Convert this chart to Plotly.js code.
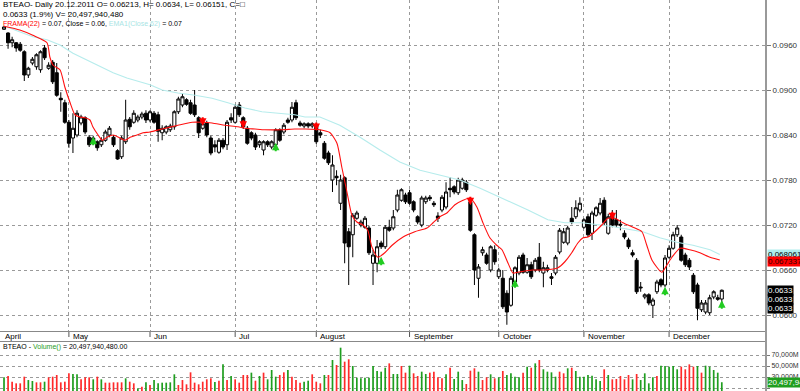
<!DOCTYPE html>
<html><head><meta charset="utf-8">
<script src="https://cdn.plot.ly/plotly-3.0.1.min.js"></script>
<style>html,body{margin:0;padding:0;background:#fff;}#chart{width:800px;height:391px;}</style>
</head><body><div id="chart"></div>
<script>
// ---- price data (daily candles, April .. 20.12.2011) ----
const openP=[
.0981,.0976,.0963,.0963,.0961,.0951,.0920,.0936,.0931,.0927,
.0956,.0929,.0937,.0923,.0889,.0883,.0857,.0836,.0840,.0856,
.0863,.0837,.0829,.0831,.0827,.0833,.0840,.0837,.0819,.0811,
.0831,.0861,.0857,.0860,.0864,.0869,.0860,.0869,.0867,.0843,
.0844,.0847,.0851,.0871,.0880,.0887,.0883,.0880,.0863,.0849,
.0856,.0836,.0827,.0817,.0833,.0827,.0863,.0857,.0880,.0863,
.0849,.0843,.0840,.0827,.0820,.0831,.0824,.0827,.0847,.0844,
.0860,.0860,.0883,.0856,.0852,.0855,.0852,.0853,.0843,.0829,
.0816,.0780,.0785,.0749,.0783,.0711,.0707,.0729,.0720,.0717,
.0716,.0669,.0669,.0696,.0691,.0717,.0716,.0740,.0753,.0760,
.0763,.0751,.0731,.0720,.0751,.0757,.0749,.0732,.0740,.0744,
.0769,.0771,.0763,.0769,.0777,.0751,.0707,.0649,.0683,.0680,
.0660,.0687,.0651,.0649,.0629,.0613,.0644,.0656,.0680,.0657,
.0667,.0660,.0677,.0656,.0660,.0651,.0656,.0684,.0697,.0696,
.0729,.0731,.0740,.0717,.0731,.0709,.0733,.0736,.0753,.0709,
.0733,.0727,.0721,.0709,.0700,.0683,.0673,.0636,.0624,.0627,
.0613,.0631,.0647,.0640,.0677,.0689,.0707,.0704,.0680,.0673,
.0653,.0640,.0607,.0604,.0603,.0624,.0623,.06213];
const highP=[
.0985,.0977,.0971,.0964,.0964,.0953,.0931,.0944,.0949,.0953,
.0960,.0937,.0940,.0936,.0897,.0887,.0860,.0869,.0873,.0867,
.0865,.0840,.0839,.0833,.0837,.0847,.0852,.0840,.0821,.0839,
.0887,.0864,.0873,.0867,.0871,.0873,.0873,.0872,.0871,.0853,
.0853,.0855,.0873,.0891,.0895,.0889,.0887,.0900,.0865,.0857,
.0859,.0839,.0833,.0836,.0836,.0860,.0869,.0881,.0884,.0865,
.0852,.0845,.0843,.0833,.0833,.0833,.0833,.0849,.0849,.0856,
.0863,.0884,.0887,.0859,.0857,.0857,.0857,.0856,.0847,.0832,
.0819,.0813,.0793,.0787,.0785,.0716,.0736,.0739,.0727,.0732,
.0719,.0687,.0700,.0699,.0720,.0727,.0740,.0767,.0769,.0763,
.0767,.0753,.0733,.0759,.0759,.0760,.0752,.0737,.0760,.0777,
.0784,.0773,.0783,.0783,.0780,.0753,.0709,.0668,.0691,.0683,
.0693,.0693,.0663,.0660,.0633,.0652,.0665,.0680,.0683,.0676,
.0671,.0676,.0696,.0671,.0667,.0656,.0680,.0716,.0716,.0719,
.0744,.0753,.0757,.0729,.0735,.0739,.0745,.0756,.0757,.0735,
.0740,.0740,.0727,.0713,.0703,.0687,.0676,.0644,.0629,.0629,
.0623,.0647,.0649,.0680,.0693,.0711,.0720,.0707,.0683,.0676,
.0656,.0643,.0620,.0620,.0627,.0633,.0627,.0634];
const lowP=[
.0980,.0955,.0957,.0951,.0951,.0912,.0916,.0933,.0927,.0923,
.0940,.0927,.0908,.0891,.0871,.0855,.0823,.0816,.0837,.0853,
.0841,.0824,.0827,.0819,.0824,.0831,.0837,.0824,.0807,.0808,
.0828,.0847,.0855,.0857,.0861,.0856,.0857,.0855,.0831,.0833,
.0841,.0844,.0847,.0868,.0877,.0879,.0867,.0864,.0836,.0847,
.0837,.0813,.0817,.0815,.0821,.0820,.0856,.0855,.0864,.0848,
.0827,.0833,.0820,.0823,.0813,.0824,.0821,.0823,.0831,.0841,
.0855,.0857,.0860,.0851,.0849,.0849,.0849,.0828,.0836,.0807,
.0800,.0764,.0773,.0740,.0669,.0640,.0677,.0727,.0717,.0715,
.0680,.0640,.0657,.0688,.0688,.0711,.0713,.0737,.0751,.0748,
.0747,.0737,.0721,.0717,.0748,.0752,.0744,.0724,.0737,.0741,
.0757,.0761,.0760,.0767,.0764,.0711,.0640,.0623,.0679,.0667,
.0657,.0667,.0648,.0608,.0587,.0611,.0641,.0653,.0655,.0655,
.0648,.0657,.0657,.0637,.0657,.0640,.0653,.0681,.0695,.0693,
.0721,.0728,.0737,.0715,.0704,.0700,.0731,.0733,.0720,.0707,
.0717,.0717,.0713,.0701,.0688,.0677,.0628,.0631,.0621,.0613,
.0596,.0628,.0637,.0637,.0675,.0687,.0704,.0671,.0664,.0660,
.0628,.0593,.0604,.0601,.0600,.0621,.0619,.06151];
const closeP=[
.0984,.0963,.0967,.0956,.0953,.0920,.0929,.0941,.0947,.0951,
.0943,.0933,.0911,.0893,.0887,.0857,.0829,.0849,.0869,.0864,
.0844,.0827,.0836,.0823,.0833,.0844,.0849,.0827,.0808,.0836,
.0860,.0851,.0869,.0864,.0868,.0860,.0871,.0857,.0845,.0849,
.0851,.0852,.0871,.0888,.0891,.0881,.0869,.0867,.0843,.0855,
.0840,.0816,.0824,.0833,.0824,.0857,.0860,.0877,.0867,.0851,
.0829,.0836,.0824,.0831,.0831,.0827,.0831,.0847,.0833,.0853,
.0857,.0877,.0863,.0853,.0855,.0852,.0855,.0831,.0840,.0809,
.0803,.0800,.0783,.0780,.0696,.0691,.0733,.0736,.0724,.0729,
.0683,.0680,.0691,.0691,.0717,.0713,.0731,.0760,.0767,.0751,
.0749,.0740,.0724,.0756,.0756,.0755,.0747,.0729,.0757,.0764,
.0767,.0764,.0780,.0780,.0767,.0713,.0660,.0664,.0687,.0669,
.0691,.0671,.0660,.0611,.0604,.0649,.0663,.0677,.0657,.0667,
.0651,.0673,.0660,.0663,.0663,.0649,.0677,.0713,.0711,.0716,
.0724,.0743,.0749,.0727,.0707,.0736,.0743,.0749,.0723,.0731,
.0720,.0720,.0720,.0704,.0691,.0680,.0631,.0637,.0627,.0616,
.0620,.0644,.0640,.0676,.0689,.0707,.0716,.0673,.0667,.0664,
.0631,.0609,.0616,.0616,.0623,.0631,.0621,.0633];

// ---- volume (millions) and bar colours as read (g = green, r = red) ----
const volume=[
29400,31800,21500,18500,18500,30600,24500,22700,20300,20300,
21500,29400,30600,33600,20300,21500,36700,35500,34900,25800,
29400,29400,25800,30600,25800,19700,19700,20300,20300,20300,
27600,21500,18500,9400,12400,20300,15500,24500,18500,19700,
19700,20300,34900,15500,24500,16700,38500,19700,16700,21500,
25800,27600,20900,23300,53000,24500,31800,25800,19700,33600,
33600,37900,23300,31800,37900,25800,42700,30600,33600,38500,
42700,30600,24500,19700,21500,23300,34900,21500,18500,33600,
33600,60900,51800,83300,57900,62200,50000,28800,27600,28800,
28800,50000,40900,39700,46900,54800,35500,35500,
50000,37900,50600,36700,31800,39700,35500,37900,39700,29400,
27600,34900,46900,26400,39700,24500,17300,41500,45800,39700,
24500,29400,34900,27600,29400,40900,33600,36700,30600,29400,
37900,48800,46900,54800,60900,44000,39700,38500,30600,39700,
36700,45800,46900,40900,30600,30600,33600,32400,25800,22700,
44000,33600,25800,26400,31800,25800,33600,25800,35500,24500,
36700,18500,29400,31800,50600,50000,48800,50000,44000,48800,
44000,53000,48800,50000,37900,50600,48800,42700,37900,20498];
const volDir=(
'grrrrrggrrgrrrrrrggrrrgrgrrrrrgrrgrgrggggggrrrrrrrrrgrgrgrrrrgrgrgggrrgrrrggrrrgrgrgrrgggggggggrgg'+
'rrgrrggrrrrgrgggrrrgrrgrgrggggrgrgrggggrrgrgggggggrgrrrrrgrggggrgggggrrrrgrggggg').split('');

// ---- indicator lines (x = trading-day index) ----
const framaX=[0,3.9,7.1,10.6,11.3,12.1,13.8,15.0,16.3,17.5,18.7,20.0,21.2,21.9,23.2,24.2,25.4,26.9,28.6,29.8,31.1,32.8,34.3,36.0,39.0,42.9,46.4,48.8,51.3,54.5,57.7,59.4,61.9,64.3,68.5,71.7,74.2,77.9,80.4,82.1,83.3,84.6,85.8,87.0,88.5,89.7,90.7,92.2,93.9,95.7,98.4,101.3,104.3,105.8,107.5,109.2,111.2,113.2,114.9,116.6,118.1,119.8,121.5,122.8,124.3,125.5,126.7,130.2,133.4,136.6,138.3,140.0,141.5,142.8,144.0,145.7,147.4,148.9,150.6,152.6,155.1,157.3,158.5,159.8,162.2,163.5,164.7,166.7,169.1,171.6,174.1,176.5];
const framaY=[.0985,.0980,.0973,.0963,.0944,.0933,.0927,.0904,.0883,.0867,.0864,.0863,.0860,.0851,.0840,.0833,.0837,.0840,.0836,.0833,.0837,.0840,.0843,.0844,.0848,.0853,.0857,.0857,.0856,.0853,.0851,.0849,.0848,.0847,.0847,.0848,.0848,.0847,.0843,.0829,.0797,.0763,.0733,.0724,.0720,.0713,.0691,.0677,.0683,.0693,.0704,.0711,.0716,.0723,.0731,.0736,.0747,.0753,.0756,.0744,.0723,.0703,.0693,.0687,.0669,.0656,.0657,.0660,.0660,.0663,.0671,.0683,.0696,.0703,.0704,.0711,.0720,.0729,.0729,.0723,.0717,.0711,.0693,.0673,.0657,.0667,.0677,.0689,.0687,.0683,.0677,.0673378];
const emaX=[0.7,3.9,7.1,10.6,13.8,17.0,20.5,23.7,26.9,30.3,33.5,36.0,39.0,42.9,47.1,51.3,55.2,59.4,63.6,67.6,71.7,74.2,77.9,82.8,87.8,92.7,97.6,102.6,107.5,112.4,117.4,122.3,124.3,129.2,134.1,138.3,142.5,150.0,157.5,161.7,165.9,169.9,174.1,176.5];
const emaY=[.0984,.0977,.0971,.0967,.0960,.0949,.0940,.0931,.0923,.0916,.0911,.0907,.0900,.0896,.0893,.0889,.0883,.0876,.0871,.0869,.0867,.0864,.0864,.0853,.0837,.0820,.0804,.0793,.0787,.0780,.0769,.0757,.0753,.0740,.0727,.0723,.0723,.0718,.0711,.0703,.0697,.0693,.0687,.0680614];

// ---- signals ----
const upIdx=[22,67,93,126,163,177], upPrice=[.0831,.0823,.0671,.0641,.0631,.0613];
const dnIdx=[49,59,77,115,150], dnPrice=[.0859,.0855,.0852,.0753,.0733];

// ---- axes labels ----
const monthLabels=['April','May','Jun','Jul','August','September','October','November','December'];
const monthIdx=[0,16,36,57,77,100,122,143,164];
const priceTicks=[0.060,0.066,0.072,0.078,0.084,0.090,0.096];
const priceTickText=['0.0600','0.0660','0.0720','0.0780','0.0840','0.0900','0.0960'];
const volTicks=[10000,30000,50000,70000];
const volTickText=['10,000M','30,000M','50,000M','70,000M'];
const tagEma='0.0680614', tagFrama='0.0673378', tagClose='0.0633', tagVol='20,497,940,480';

const N=openP.length;
const idx=[]; for(let i=0;i<N;i++) idx.push(i);
const vIdx=[]; for(let i=0;i<volume.length;i++) vIdx.push(i);

const FONT='Liberation Sans, Arial, sans-serif';
const H=391;
const py=p=>1-p/H; // pixel row -> paper fraction
const GREEN='#1f9e1f', RED='#ff2a2a';

const traces=[
 {type:'candlestick',x:idx,open:openP,high:highP,low:lowP,close:closeP,xaxis:'x',yaxis:'y',
  increasing:{line:{color:'#000',width:1},fillcolor:'#ffffff'},
  decreasing:{line:{color:'#000',width:1},fillcolor:'#000000'},
  whiskerwidth:0,hoverinfo:'skip'},
 {type:'scatter',mode:'lines',x:emaX,y:emaY,line:{color:'#b6ecec',width:1.2},xaxis:'x',yaxis:'y',hoverinfo:'skip'},
 {type:'scatter',mode:'lines',x:framaX,y:framaY,line:{color:'#ff1010',width:1.1,shape:'spline',smoothing:0.6},xaxis:'x',yaxis:'y',hoverinfo:'skip'},
 {type:'bar',x:vIdx,y:volume,width:0.42,marker:{color:volDir.map(d=>d==='g'?GREEN:RED),line:{width:0}},xaxis:'x2',yaxis:'y2',hoverinfo:'skip'}
];

const ann=[];
ann.push({xref:'paper',yref:'paper',x:0,xshift:1,y:py(5),xanchor:'left',yanchor:'middle',showarrow:false,
  text:'BTEAO- Daily 20.12.2011 O= 0.06213, H= 0.0634, L= 0.06151, C=\u25A1',font:{family:FONT,size:8,color:'#000'}});
ann.push({xref:'paper',yref:'paper',x:0,xshift:1,y:py(14.5),xanchor:'left',yanchor:'middle',showarrow:false,
  text:'0.0633 (1.9%) V= 20,497,940,480',font:{family:FONT,size:8,color:'#000'}});
ann.push({xref:'paper',yref:'paper',x:0,xshift:1,y:py(24),xanchor:'left',yanchor:'middle',showarrow:false,
  text:'<span style="color:#ff0000">FRAMA(22)</span> = 0.07, Close = 0.06, <span style="color:#a8e4e4">EMA1(Close,62)</span> = 0.07',
  font:{family:FONT,size:7,color:'#000'}});
ann.push({xref:'paper',yref:'paper',x:0,xshift:1,y:py(347),xanchor:'left',yanchor:'middle',showarrow:false,
  text:'BTEAO - <span style="color:#1f9e1f">Volume()</span> = 20,497,940,480.00',font:{family:FONT,size:7,color:'#000'}});
monthLabels.forEach((m,k)=>{
  ann.push({xref:'x',yref:'paper',x:monthIdx[k],xshift:k===0?-1:2,y:py(336.5),xanchor:'left',yanchor:'middle',showarrow:false,
    text:m,font:{family:FONT,size:8,color:'#000'}});
});
// signal arrows (tip at the signal price)
upIdx.forEach((x,k)=>ann.push({xref:'x',yref:'y',x:x,y:upPrice[k],yshift:5,ax:0,ay:10,text:'',showarrow:true,
  arrowhead:2,arrowsize:0.75,arrowwidth:2,arrowcolor:'#22cc22',standoff:0,startstandoff:0}));
dnIdx.forEach((x,k)=>ann.push({xref:'x',yref:'y',x:x,y:dnPrice[k],yshift:-5,ax:0,ay:-10,text:'',showarrow:true,
  arrowhead:2,arrowsize:0.75,arrowwidth:2,arrowcolor:'#ff0000',standoff:0,startstandoff:0}));
// right-side value tags
ann.push({xref:'paper',yref:'y',x:1,xshift:1,y:Number(tagEma),xanchor:'left',yanchor:'middle',showarrow:false,text:tagEma,
  bgcolor:'#aeeeee',borderpad:0,font:{family:FONT,size:8,color:'#000'}});
ann.push({xref:'paper',yref:'y',x:1,xshift:1,y:Number(tagFrama),yshift:-2,xanchor:'left',yanchor:'middle',showarrow:false,text:tagFrama,
  bgcolor:'#ff0000',borderpad:0,font:{family:FONT,size:8,color:'#300'}});
[0,-9,-18].forEach(s=>{
  ann.push({xref:'paper',yref:'y',x:1,xshift:1,y:Number(tagClose),yshift:s,xanchor:'left',yanchor:'middle',showarrow:false,text:tagClose,
    bgcolor:'#000',borderpad:0,font:{family:FONT,size:8,color:'#fff'}});
});
ann.push({xref:'paper',yref:'y2',x:1,xshift:1,y:volume[volume.length-1],xanchor:'left',yanchor:'middle',showarrow:false,text:tagVol,
  bgcolor:'#1f9e1f',borderpad:0,font:{family:FONT,size:8,color:'#fff'}});

const shapes=[];
monthIdx.forEach((m,k)=>{ if(k>0) shapes.push({type:'line',xref:'x',yref:'paper',x0:m,x1:m,y0:py(337),y1:py(331),line:{color:'#555',width:1}}); });
shapes.push({type:'line',xref:'paper',yref:'paper',x0:0,x1:1,y0:py(331.5),y1:py(331.5),line:{color:'#888',width:1}});
shapes.push({type:'line',xref:'paper',yref:'paper',x0:0,x1:1,y0:py(341.5),y1:py(341.5),line:{color:'#888',width:1}});
shapes.push({type:'line',xref:'paper',yref:'paper',x0:1,x1:1,y0:0,y1:1,line:{color:'#999',width:2}});

const xr=[-0.99,187.9];
const layout={
  width:800,height:391,margin:{l:0,r:34,t:0,b:0,pad:0},
  paper_bgcolor:'#fff',plot_bgcolor:'#fff',showlegend:false,
  xaxis:{domain:[0,1],range:xr,anchor:'y',tickvals:monthIdx.slice(1),showticklabels:false,ticks:'',
    showgrid:true,gridcolor:'#9a9a9a',griddash:'dot',gridwidth:1,zeroline:false,showline:false,
    rangeslider:{visible:false},fixedrange:true},
  yaxis:{domain:[py(331),1],range:[0.06+(315-331)/7500,0.06+315/7500],side:'right',anchor:'x',
    tickvals:priceTicks,ticktext:priceTickText,ticks:'outside',ticklen:4,tickcolor:'#777',
    tickfont:{family:FONT,size:8,color:'#333'},showgrid:true,gridcolor:'#9a9a9a',griddash:'dot',gridwidth:1,
    zeroline:false,showline:false,fixedrange:true},
  xaxis2:{domain:[0,1],range:xr,anchor:'y2',showticklabels:false,ticks:'',showgrid:false,zeroline:false,fixedrange:true},
  yaxis2:{domain:[0,py(342)],range:[10000-(391-388)*20000/11,10000+(388-342)*20000/11],side:'right',anchor:'x2',
    tickvals:volTicks,ticktext:volTickText,ticks:'outside',ticklen:3,tickcolor:'#777',
    tickfont:{family:FONT,size:7,color:'#333'},showgrid:true,gridcolor:'#9a9a9a',griddash:'dot',gridwidth:1,
    zeroline:false,showline:false,fixedrange:true},
  bargap:0.5,boxgap:0.05,boxgroupgap:0.2,
  annotations:ann,shapes:shapes
};
Plotly.newPlot('chart',traces,layout,{staticPlot:true,displayModeBar:false});
</script></body></html>
